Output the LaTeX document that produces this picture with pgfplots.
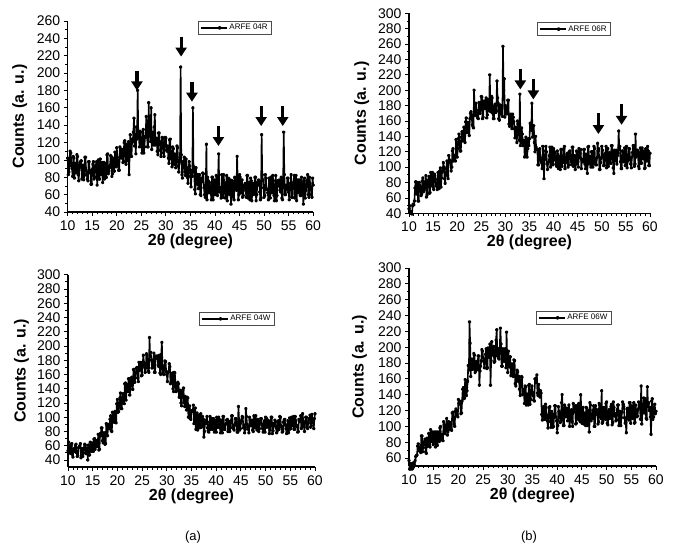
\documentclass[border=0pt]{standalone}
\usepackage{fontspec}
\setmainfont{Liberation Sans}
\usepackage{pgfplots}
\usepackage{pgfplotstable}
\pgfplotsset{compat=1.18}
\usetikzlibrary{arrows.meta}
\tikzset{arr/.style={line width=3.2pt, -{Triangle[width=11pt,length=9pt]}}}

\pgfplotstableread{
x r04 r06 w04 w06
10 102 46 53 57
10.125 83 50 65 46
10.25 86 40 59 46
10.375 102 41 51 53
10.5 110 42 49 51
10.625 108 39 60 46
10.75 93 50 63 47
10.875 90 52 48 54
11 81 51 44 54
11.125 104 56 55 51
11.25 102 73 56 57
11.375 79 81 52 62
11.5 96 65 60 63
11.625 96 66 62 64
11.75 85 80 50 75
11.875 106 56 45 78
12 104 56 46 74
12.125 83 80 57 69
12.25 76 76 58 70
12.375 91 72 60 67
12.5 97 63 63 88
12.625 98 65 43 88
12.75 99 82 52 68
12.875 78 86 56 73
13 84 68 45 79
13.125 94 70 50 81
13.25 77 77 57 84
13.375 82 81 62 68
13.5 103 89 61 66
13.625 103 61 49 85
13.75 88 64 51 75
13.875 84 80 57 78
14 78 83 40 91
14.125 76 88 61 75
14.25 98 66 47 74
14.375 98 67 47 96
14.5 85 93 65 81
14.625 88 76 57 83
14.75 72 78 52 93
14.875 72 93 64 77
15 89 74 59 89
15.125 95 71 52 93
15.25 98 91 69 79
15.375 78 89 70 74
15.5 80 84 55 93
15.625 92 76 61 88
15.75 94 75 67 76
15.875 98 71 59 93
16 71 93 61 89
16.125 84 87 76 81
16.25 100 72 54 98
16.375 78 95 55 100
16.5 78 99 77 83
16.625 101 74 74 88
16.75 90 86 85 90
16.875 83 94 85 82
17 97 96 67 106
17.125 74 106 64 102
17.25 84 100 78 91
17.375 97 85 78 95
17.5 78 79 62 101
17.625 93 92 63 110
17.75 96 98 91 89
17.875 80 108 89 93
18 106 89 74 106
18.125 107 85 90 96
18.25 84 115 85 102
18.375 87 109 84 105
18.5 91 109 97 97
18.625 94 106 102 95
18.75 105 95 81 117
18.875 104 100 80 118
19 81 121 107 110
19.125 84 124 106 103
19.25 101 108 97 100
19.375 102 110 93 119
19.5 87 115 108 122
19.625 109 108 107 115
19.75 102 136 92 115
19.875 92 130 119 112
20 114 113 125 134
20.125 103 124 107 129
20.25 95 137 108 132
20.375 88 143 116 128
20.5 88 131 127 116
20.625 115 121 134 117
20.75 113 121 112 132
20.875 102 139 112 147
21 105 146 127 149
21.125 112 134 133 135
21.25 97 144 126 136
21.375 98 152 119 159
21.5 120 136 147 155
21.625 122 132 148 139
21.75 106 159 124 145
21.875 95 164 140 157
22 118 145 146 177
22.125 114 149 136 171
22.25 99 158 154 232
22.375 121 146 154 205
22.5 83 141 131 163
22.625 108 163 139 185
22.75 129 170 154 185
22.875 104 172 156 172
23 104 168 147 175
23.125 124 155 139 192
23.25 121 153 167 190
23.375 132 151 167 168
23.5 148 200 149 170
23.625 116 170 155 182
23.75 129 167 163 180
23.875 107 183 169 172
24 138 174 170 189
24.125 124 168 155 189
24.25 180 164 150 152
24.375 131 163 177 170
24.5 127 184 166 176
24.625 115 181 167 183
24.75 133 170 177 197
24.875 122 177 158 195
25 117 192 159 187
25.125 108 191 174 182
25.25 132 163 187 174
25.375 135 165 177 181
25.5 108 183 171 191
25.625 115 186 163 198
25.75 127 176 169 173
25.875 126 176 189 174
26 150 190 187 199
26.125 138 164 173 192
26.25 115 168 165 187
26.375 115 188 163 204
26.5 166 187 212 152
26.625 130 173 185 183
26.75 132 220 191 207
26.875 121 183 180 190
27 160 172 169 199
27.125 112 192 170 201
27.25 129 190 180 181
27.375 132 170 190 182
27.5 117 163 163 189
27.625 138 163 163 209
27.75 152 180 186 222
27.875 117 182 183 189
28 119 171 183 197
28.125 125 173 186 186
28.25 110 212 173 185
28.375 106 190 171 199
28.5 131 183 187 224
28.625 131 163 162 204
28.75 121 161 160 176
28.875 111 181 188 176
29 104 169 205 198
29.125 118 173 171 189
29.25 126 180 162 182
29.375 124 166 160 196
29.5 108 257 172 198
29.625 104 200 179 174
29.75 120 215 178 219
29.875 126 165 164 185
30 125 180 160 168
30.125 111 179 150 195
30.25 110 169 163 178
30.375 116 171 164 175
30.5 102 187 175 188
30.625 96 187 171 164
30.75 123 156 147 165
30.875 124 153 150 179
31 103 165 161 172
31.125 101 169 162 163
31.25 92 155 140 184
31.375 115 150 136 183
31.5 113 169 163 154
31.625 95 165 162 151
31.75 107 159 148 158
31.875 105 150 136 171
32 91 138 137 169
32.125 98 152 144 157
32.25 116 146 149 163
32.375 114 132 147 147
32.5 93 160 128 139
32.625 86 156 130 158
32.75 98 150 138 163
32.875 103 135 120 162
33 207 195 116 140
33.125 106 128 135 141
33.25 83 132 138 147
33.375 79 151 141 129
33.5 98 143 121 151
33.625 97 128 115 150
33.75 103 134 129 127
33.875 86 135 118 141
34 82 113 110 135
34.125 101 115 128 127
34.25 91 139 127 152
34.375 80 132 100 153
34.5 73 113 112 128
34.625 89 124 116 134
34.75 98 137 98 144
34.875 93 128 97 151
35 81 137 109 143
35.125 69 157 108 139
35.25 88 157 109 133
35.375 81 148 117 132
35.5 160 183 91 160
35.625 88 139 94 155
35.75 92 147 113 161
35.875 66 154 83 165
36 61 132 94 142
36.125 91 120 106 139
36.25 78 140 82 153
36.375 72 126 95 143
36.5 83 123 103 137
36.625 67 123 85 145
36.75 67 103 95 142
36.875 83 103 105 115
37 60 121 86 108
37.125 59 124 89 124
37.25 79 112 101 125
37.375 75 107 97 111
37.5 85 106 72 109
37.625 84 98 80 128
37.75 68 127 95 124
37.875 60 121 91 112
38 57 85 96 107
38.125 71 110 101 98
38.25 118 115 85 114
38.375 54 127 81 123
38.5 80 120 79 125
38.625 76 104 93 106
38.75 62 97 101 99
38.875 74 106 83 119
39 68 107 90 116
39.125 65 115 98 99
39.25 54 126 83 100
39.375 80 100 89 113
39.5 80 103 98 126
39.625 54 126 79 126
39.75 60 110 89 112
39.875 77 103 95 107
40 70 124 79 92
40.125 60 120 100 101
40.25 82 118 92 125
40.375 71 109 86 119
40.5 59 104 100 117
40.625 79 101 97 105
40.75 107 121 85 107
40.875 63 117 78 130
41 65 98 96 140
41.125 68 112 92 112
41.25 56 114 78 101
41.375 83 97 101 101
41.5 77 123 101 127
41.625 57 123 83 124
41.75 83 101 83 112
41.875 74 106 90 115
42 63 109 91 121
42.125 56 124 96 107
42.25 71 127 97 123
42.375 82 98 80 127
42.5 53 106 86 100
42.625 70 110 94 110
42.75 79 117 80 117
42.875 62 118 85 121
43 60 100 95 106
43.125 77 103 102 100
43.25 49 120 102 129
43.375 59 121 88 118
43.5 76 112 84 120
43.625 73 107 82 126
43.75 57 103 89 103
43.875 54 126 98 104
44 80 126 98 126
44.125 79 101 91 113
44.25 66 115 79 109
44.375 65 115 79 129
44.5 104 97 115 113
44.625 76 104 97 106
44.75 54 121 82 140
44.875 60 120 84 123
45 83 107 92 104
45.125 80 100 95 109
45.25 62 124 101 124
45.375 68 112 100 103
45.5 77 118 85 115
45.625 57 123 89 117
45.75 59 98 78 101
45.875 71 109 83 124
46 70 110 112 123
46.125 73 107 101 101
46.25 65 123 90 118
46.375 57 123 86 120
46.5 82 104 83 93
46.625 82 98 78 130
46.75 56 117 100 127
46.875 65 115 96 107
47 74 92 88 110
47.125 54 126 92 112
47.25 79 127 96 120
47.375 76 104 82 126
47.5 53 114 80 100
47.625 70 110 102 100
47.75 73 100 91 126
47.875 60 120 85 121
48 63 120 102 121
48.125 80 100 90 115
48.25 80 109 82 103
48.375 53 127 97 106
48.5 60 124 94 129
48.625 74 106 80 127
48.75 71 103 84 112
48.875 77 103 94 110
49 76 112 98 145
49.125 63 131 98 104
49.25 54 121 89 106
49.375 56 124 84 123
49.5 129 97 79 124
49.625 83 97 91 113
49.75 77 106 95 109
49.875 68 112 79 129
50 57 127 100 131
50.125 59 122 99 104
50.25 83 116 86 102
50.375 79 102 87 119
50.5 66 102 96 121
50.625 66 115 94 110
50.75 62 118 77 114
50.875 54 127 82 125
51 79 99 91 128
51.125 71 110 100 102
51.25 56 124 100 105
51.375 80 101 77 131
51.5 73 111 81 124
51.625 62 119 91 113
51.75 82 105 88 116
51.875 76 105 96 107
52 59 128 94 108
52.125 53 128 85 121
52.25 70 119 78 127
52.375 82 99 81 127
52.5 53 92 92 101
52.625 59 122 95 108
52.75 76 108 83 119
52.875 70 111 101 101
53 74 122 100 111
53.125 77 104 88 118
53.25 65 115 86 131
53.375 63 118 79 128
53.5 80 147 80 125
53.625 56 125 93 111
53.75 54 127 96 104
53.875 74 107 97 105
54 132 98 89 92
54.125 83 98 84 122
54.25 60 121 77 123
54.375 60 121 89 116
54.5 71 107 95 108
54.625 66 115 78 130
54.75 79 125 82 130
54.875 79 102 99 104
55 63 116 93 118
55.125 54 127 84 126
55.25 68 99 100 110
55.375 73 108 91 116
55.5 83 111 88 130
55.625 57 124 101 104
55.75 57 124 83 105
55.875 71 110 83 127
56 74 104 101 119
56.125 82 99 95 112
56.25 56 113 87 113
56.375 62 119 88 121
56.5 82 128 79 131
56.625 53 128 80 130
56.75 70 101 97 125
56.875 77 104 97 109
57 62 143 94 151
57.125 68 113 102 103
57.25 77 122 84 118
57.375 59 122 86 123
57.5 59 119 105 136
57.625 80 101 94 117
57.75 73 98 88 128
57.875 65 116 80 135
58 49 125 93 110
58.125 76 105 100 109
58.25 79 105 100 150
58.375 56 125 86 128
58.5 65 115 84 130
58.625 70 111 92 120
58.75 76 121 98 124
58.875 83 98 98 112
59 60 99 103 90
59.125 57 124 86 132
59.25 80 110 88 135
59.375 73 108 104 109
59.5 68 127 96 112
59.625 60 121 93 123
59.75 57 102 84 128
59.875 79 102 98 116
60 71 118 105 119
}\datatable

\pgfplotsset{
  xrd/.style={
    scale only axis,
    anchor=south west,
    xmin=10, xmax=60,
    xtick={10,15,...,60},
    minor x tick num=4,
    ytick distance=20,
    minor y tick num=1,
    axis lines=left,
    axis line style={-, line width=1.2pt},
    tick align=outside,
    major tick length=4pt,
    minor tick length=2.5pt,
    every tick/.style={black, line width=0.8pt},
    enlargelimits=false,
    clip=false,
    /pgf/number format/assume math mode=true,
    tick label style={font=\fontsize{14}{14}\selectfont},
    xticklabel style={yshift=-1pt},
    xlabel={\textbf{2θ (degree)}},
    ylabel={\textbf{Counts (a. u.)}},
    label style={font=\fontsize{16}{16}\selectfont},
    xlabel style={at={(axis description cs:0.5,0)}, anchor=center, yshift=-29pt},
    legend cell align=left,
    legend image code/.code={
      \path (0pt,0pt) -- (26pt,0pt);
      \draw[line width=0.9pt] (12pt,0pt) -- (26pt,0pt);
      \fill (19pt,0pt) circle (1.2pt);},
    legend style={anchor=north west, font=\fontsize{8}{9}\selectfont,
      draw=black!70, line width=0.6pt, inner xsep=1.5pt, inner ysep=1pt,
      row sep=0pt},
  },
  xrdline/.style={black, line width=1.6pt, line join=round, mark=*, mark size=1pt},
}

\begin{document}
\begin{tikzpicture}[x=1pt,y=1pt]
\useasboundingbox (0,0) rectangle (678,560);

% top left
\begin{axis}[xrd, at={(67.7pt,348pt)}, width=245.5pt, height=191pt,
  ymin=40, ymax=260,
  ylabel style={at={(axis description cs:-0.195,0.5)}, anchor=center},
  legend style={at={(axis description cs:0.531,1.0)}}]
\addplot[xrdline] table[x=x, y=r04] {\datatable};
\addlegendentry{ARFE 04R}
\draw[arr] (axis cs:24.1,202) -- (axis cs:24.1,180);
\draw[arr] (axis cs:33.1,242) -- (axis cs:33.1,219);
\draw[arr] (axis cs:35.3,190) -- (axis cs:35.3,167);
\draw[arr] (axis cs:40.7,139) -- (axis cs:40.7,116);
\draw[arr] (axis cs:49.4,162) -- (axis cs:49.4,139);
\draw[arr] (axis cs:53.8,162) -- (axis cs:53.8,139);
\end{axis}

% top right
\begin{axis}[xrd, at={(409pt,346.7pt)}, width=241pt, height=200pt,
  ymin=40, ymax=300,
  ylabel style={at={(axis description cs:-0.196,0.5)}, anchor=center},
  legend style={at={(axis description cs:0.531,0.955)}}]
\addplot[xrdline] table[x=x, y=r06] {\datatable};
\addlegendentry{ARFE 06R}
\draw[arr] (axis cs:33.1,228) -- (axis cs:33.1,201);
\draw[arr] (axis cs:35.8,215) -- (axis cs:35.8,188);
\draw[arr] (axis cs:49.3,170) -- (axis cs:49.3,143);
\draw[arr] (axis cs:54.1,182) -- (axis cs:54.1,155);
\end{axis}

% bottom left
\begin{axis}[xrd, at={(68pt,92.9pt)}, width=247pt, height=192.4pt,
  ymin=30, ymax=300, ytick={40,60,...,300},
  ylabel style={at={(axis description cs:-0.188,0.5)}, anchor=center},
  legend style={at={(axis description cs:0.53,0.806)}}]
\addplot[xrdline] table[x=x, y=w04] {\datatable};
\addlegendentry{ARFE 04W}
\end{axis}

% bottom right
\begin{axis}[xrd, at={(409pt,94pt)}, width=247pt, height=198pt,
  ymin=50, ymax=300, ytick={60,80,...,300},
  ylabel style={at={(axis description cs:-0.2,0.5)}, anchor=center},
  legend style={at={(axis description cs:0.514,0.783)}}]
\addplot[xrdline] table[x=x, y=w06] {\datatable};
\addlegendentry{ARFE 06W}
\end{axis}

\node[font=\fontsize{13}{13}\selectfont] at (193,23) {(a)};
\node[font=\fontsize{13}{13}\selectfont] at (529,23) {(b)};
\end{tikzpicture}
\end{document}
